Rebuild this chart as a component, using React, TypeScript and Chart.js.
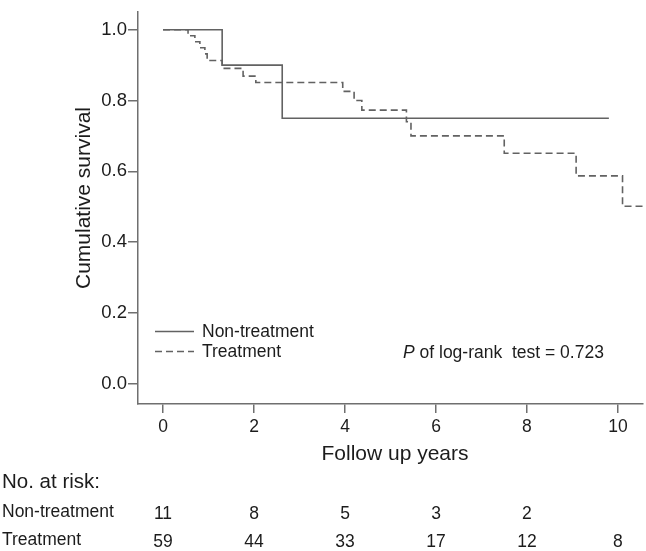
import React, { useEffect, useRef } from "react";
import { Chart, registerables } from "chart.js";

Chart.register(...registerables);

const nonTreatmentTimes = [0, 1.3, 2.62, 9.8];
const nonTreatmentSurvival = [1.0, 0.9, 0.75, 0.75];

const treatmentTimes = [0, 0.55, 0.7, 0.81, 0.92, 0.97, 1.3, 1.76, 2.04, 3.95, 4.2, 4.37, 5.35, 5.45, 7.5, 9.08, 10.1, 10.55];
const treatmentSurvival = [1.0, 0.983, 0.966, 0.949, 0.932, 0.913, 0.891, 0.869, 0.851, 0.826, 0.8, 0.773, 0.74, 0.7, 0.651, 0.587, 0.501, 0.501];

const xTickValues = [0, 2, 4, 6, 8, 10];
const yTickValues = [0, 0.2, 0.4, 0.6, 0.8, 1.0];

const riskTimes = [0, 2, 4, 6, 8, 10];
const riskNonTreatment = [11, 8, 5, 3, 2];
const riskTreatment = [59, 44, 33, 17, 12, 8];

const seriesLabels = ["Non-treatment", "Treatment"];
const pValueText = "0.723";

const FONT = '"Liberation Sans", Arial, sans-serif';
const TEXT = "#1c1c1c";
const AXIS = "#6f6f6f";
const LINE = "#626262";

const overlay = {
  id: "overlay",
  afterDraw(chart: any) {
    const ctx = chart.ctx as CanvasRenderingContext2D;
    const xs = chart.scales.x;
    ctx.save();
    ctx.fillStyle = TEXT;

    // Y title
    ctx.save();
    ctx.translate(84, 198);
    ctx.rotate(-Math.PI / 2);
    ctx.font = `21px ${FONT}`;
    ctx.textAlign = "center";
    ctx.textBaseline = "middle";
    ctx.fillText("Cumulative survival", 0, 0);
    ctx.restore();

    // X title
    ctx.font = `21px ${FONT}`;
    ctx.textAlign = "center";
    ctx.textBaseline = "alphabetic";
    ctx.fillText("Follow up years", 395, 460);

    // Legend
    const ds = chart.data.datasets;
    const legendY = [331, 351];
    ds.forEach((d: any, i: number) => {
      ctx.save();
      ctx.strokeStyle = d.borderColor;
      ctx.lineWidth = d.borderWidth;
      ctx.setLineDash(d.borderDash || []);
      ctx.beginPath();
      ctx.moveTo(155, legendY[i] + 0.5);
      ctx.lineTo(194, legendY[i] + 0.5);
      ctx.stroke();
      ctx.restore();
      ctx.font = `17.5px ${FONT}`;
      ctx.textAlign = "left";
      ctx.textBaseline = "middle";
      ctx.fillText(d.label, 202, legendY[i] + 1);
    });

    // P value
    ctx.textBaseline = "alphabetic";
    ctx.textAlign = "left";
    ctx.font = `italic 17.5px ${FONT}`;
    let px = 403;
    ctx.fillText("P", px, 358);
    px += ctx.measureText("P").width;
    ctx.font = `17.5px ${FONT}`;
    ctx.fillText(` of log-rank  test = ${pValueText}`, px, 358);

    // Risk table
    ctx.font = `20.5px ${FONT}`;
    ctx.fillText("No. at risk:", 2, 488);
    ctx.font = `17.5px ${FONT}`;
    ctx.fillText(seriesLabels[0], 2, 517);
    ctx.fillText(seriesLabels[1], 2, 545);
    ctx.textAlign = "center";
    riskNonTreatment.forEach((v, i) => {
      ctx.fillText(String(v), xs.getPixelForValue(riskTimes[i]), 519);
    });
    riskTreatment.forEach((v, i) => {
      ctx.fillText(String(v), xs.getPixelForValue(riskTimes[i]), 547);
    });
    ctx.restore();
  },
};

export default function App() {
  const ref = useRef<HTMLCanvasElement | null>(null);
  useEffect(() => {
    if (!ref.current) return;
    const chart = new Chart(ref.current, {
      type: "line",
      data: {
        datasets: [
          {
            label: seriesLabels[0],
            data: nonTreatmentTimes.map((t, i) => ({ x: t, y: nonTreatmentSurvival[i] })),
            borderColor: LINE,
            borderWidth: 1.6,
            stepped: true,
            pointRadius: 0,
            fill: false,
          },
          {
            label: seriesLabels[1],
            data: treatmentTimes.map((t, i) => ({ x: t, y: treatmentSurvival[i] })),
            borderColor: LINE,
            borderWidth: 1.6,
            borderDash: [7, 4],
            stepped: true,
            pointRadius: 0,
            fill: false,
          },
        ],
      },
      options: {
        animation: false,
        responsive: false,
        maintainAspectRatio: false,
        layout: { padding: { top: 4, right: 3, left: 0, bottom: 0 } },
        plugins: { legend: { display: false }, tooltip: { enabled: false }, title: { display: false } },
        scales: {
          x: {
            type: "linear",
            min: -0.55,
            max: 10.55,
            afterFit(scale: any) {
              scale.height = 147;
            },
            afterBuildTicks(scale: any) {
              scale.ticks = xTickValues.map((v) => ({ value: v }));
            },
            ticks: {
              color: TEXT,
              font: { family: FONT, size: 17.5 },
              padding: 4,
              maxRotation: 0,
              callback: (v: any) => String(v),
            },
            grid: { display: true, drawOnChartArea: false, drawTicks: true, tickLength: 9, color: AXIS, lineWidth: 1.5 },
            border: { display: true, color: AXIS, width: 1.5 },
          },
          y: {
            type: "linear",
            min: -0.058,
            max: 1.05,
            afterFit(scale: any) {
              scale.width = 138;
            },
            afterBuildTicks(scale: any) {
              scale.ticks = yTickValues.map((v) => ({ value: v }));
            },
            ticks: {
              color: TEXT,
              font: { family: FONT, size: 18.5 },
              padding: 1,
              callback: (v: any) => Number(v).toFixed(1),
            },
            grid: { display: true, drawOnChartArea: false, drawTicks: true, tickLength: 10, color: AXIS, lineWidth: 1.5 },
            border: { display: true, color: AXIS, width: 1.5 },
          },
        },
      },
      plugins: [overlay],
    });
    return () => chart.destroy();
  }, []);
  return (
    <div style={{ position: "fixed", left: 0, top: 0, width: 646, height: 551, background: "#fff" }}>
      <canvas ref={ref} width={646} height={551} style={{ display: "block", width: 646, height: 551 }} />
    </div>
  );
}
